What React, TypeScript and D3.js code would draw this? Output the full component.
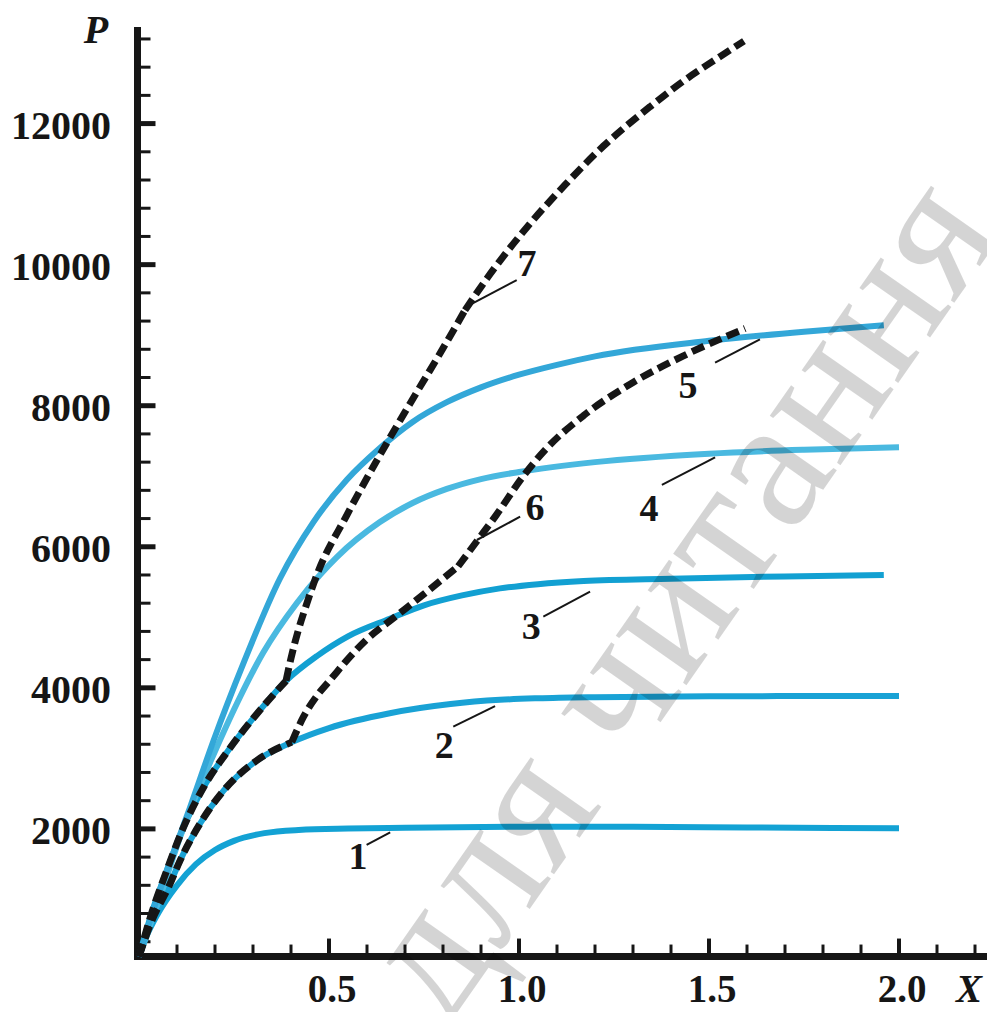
import React from 'react';
import * as d3 from 'd3';

type Pt = [number, number];

// Solid curves 1..5 : [X, P]
const curve1: Pt[] = [[0,190],[0.02,480],[0.05,800],[0.1,1200],[0.15,1500],[0.2,1700],[0.25,1830],[0.33,1940],[0.42,1985],[0.55,2005],[0.7,2015],[1.0,2030],[1.3,2030],[1.6,2020],[2.0,2010]];
const curve2: Pt[] = [[0,190],[0.03,650],[0.08,1200],[0.108,1550],[0.16,2070],[0.222,2540],[0.31,2970],[0.402,3230],[0.5,3430],[0.66,3640],[0.82,3770],[0.95,3830],[1.05,3852],[1.2,3868],[1.5,3880],[2.0,3885]];
const curve3: Pt[] = [[0,190],[0.03,750],[0.073,1410],[0.117,2020],[0.17,2590],[0.24,3150],[0.31,3630],[0.387,4100],[0.468,4450],[0.55,4730],[0.66,4980],[0.75,5170],[0.85,5310],[0.95,5410],[1.05,5470],[1.17,5515],[1.4,5548],[1.7,5580],[1.96,5600]];
const curve4: Pt[] = [[0,190],[0.05,950],[0.108,1880],[0.152,2500],[0.196,3050],[0.257,3770],[0.327,4500],[0.415,5200],[0.476,5600],[0.52,5850],[0.634,6350],[0.72,6620],[0.81,6820],[0.9,6960],[1.0,7060],[1.2,7200],[1.5,7320],[1.75,7375],[2.0,7410]];
const curve5: Pt[] = [[0,190],[0.05,1050],[0.1,1800],[0.134,2300],[0.196,3250],[0.275,4350],[0.371,5550],[0.459,6350],[0.547,6950],[0.634,7400],[0.72,7770],[0.81,8050],[0.9,8260],[1.0,8440],[1.1,8580],[1.2,8700],[1.5,8920],[1.75,9050],[1.96,9140]];

// Dashed envelope curves 6 and 7, split at their kinks
const dashed6: Pt[][] = [
  [[0,190],[0.03,650],[0.08,1200],[0.108,1550],[0.16,2070],[0.222,2540],[0.31,2970],[0.402,3230]],
  [[0.402,3230],[0.432,3580],[0.47,3900],[0.503,4110],[0.555,4440],[0.6,4690],[0.67,4990],[0.75,5330],[0.84,5724]],
  [[0.84,5724],[0.889,6078],[0.941,6455],[1.011,7000],[1.073,7397],[1.17,7860],[1.3,8330],[1.43,8700],[1.595,9095]],
];
const dashed7: Pt[][] = [
  [[0,190],[0.03,750],[0.073,1410],[0.117,2020],[0.17,2590],[0.24,3150],[0.31,3630],[0.387,4100]],
  [[0.387,4100],[0.40,4420],[0.42,4830],[0.44,5170],[0.468,5600],[0.547,6450],[0.634,7300],[0.722,8110],[0.792,8740],[0.858,9355]],
  [[0.858,9355],[0.915,9800],[0.968,10180],[1.04,10650],[1.121,11130],[1.222,11680],[1.345,12240],[1.432,12600],[1.529,12950],[1.592,13170]],
];

const solidColors = ['#13a2d4', '#19a2d5', '#12a0d2', '#4ab9e0', '#33a7d8'];

// Curve labels: text, pointer start, pointer end, text position (data units)
const labelNames = ['1','2','3','4','5','6','7'];
const pointerFrom: Pt[] = [[0.599,1772],[0.827,3449],[1.064,5008],[1.376,6876],[1.516,8610],[0.889,6096],[0.858,9395]];
const pointerTo: Pt[] = [[0.661,1952],[0.937,3742],[1.187,5363],[1.516,7268],[1.634,8942],[1.003,6426],[0.994,9782]];
const labelAt: Pt[] = [[0.576,1616],[0.803,3189],[1.032,4877],[1.342,6550],[1.445,8294],[1.042,6564],[1.021,10023]];

const yTickLabels = [2000, 4000, 6000, 8000, 10000, 12000];
const xTickLabels = [0.5, 1.0, 1.5, 2.0];

const W = 987, H = 1012;
const FONT = "'Liberation Serif', 'Times New Roman', serif";

export default function App() {
  const x = d3.scaleLinear().domain([0, 2]).range([139, 899]);
  const y = d3.scaleLinear().domain([0, 12000]).range([969.95, 969.95 - 12000 * 0.07053]);
  const line = d3.line<Pt>().x(d => x(d[0])).y(d => y(d[1])).curve(d3.curveMonotoneX);

  const axisX = 137.5;
  const axisY = y(190);
  const yMinor = d3.range(400, 13201, 400);
  const xMinor = d3.range(1, 23).map(i => i / 10);
  const solids = [curve1, curve2, curve3, curve4, curve5];

  return (
    <svg width={W} height={H} style={{ position: 'absolute', left: 0, top: 0, background: '#fff' }}>
      <rect width={W} height={H} fill="#fff" />
      {/* axes */}
      <line x1={axisX} x2={axisX} y1={27} y2={axisY + 3.5} stroke="#161616" strokeWidth={7} />
      <line x1={axisX - 3.5} x2={W} y1={axisY} y2={axisY} stroke="#161616" strokeWidth={7} />
      {yMinor.map(v => {
        const major = v % 2000 === 0;
        return <line key={'yt' + v} x1={axisX} x2={axisX + (major ? 18 : 13)} y1={y(v)} y2={y(v)} stroke="#161616" strokeWidth={major ? 5 : 3} />;
      })}
      {xMinor.map(v => {
        const major = Math.abs(v * 2 - Math.round(v * 2)) < 1e-6;
        return <line key={'xt' + v} x1={x(v)} x2={x(v)} y1={axisY} y2={axisY - (major ? 18 : 12)} stroke="#161616" strokeWidth={major ? 4 : 3} />;
      })}
      {yTickLabels.map(v => (
        <text key={'yl' + v} x={111} y={y(v) + 15} textAnchor="end" fontFamily={FONT} fontWeight="bold" fontSize={40} fill="#161616">{v}</text>
      ))}
      {xTickLabels.map(v => (
        <text key={'xl' + v} x={x(v) + 3} y={1002} textAnchor="middle" fontFamily={FONT} fontWeight="bold" fontSize={39} fill="#161616">{v.toFixed(1)}</text>
      ))}
      <text x={96} y={43} textAnchor="middle" fontFamily={FONT} fontWeight="bold" fontStyle="italic" fontSize={40} fill="#161616">P</text>
      <text x={969} y={1002} textAnchor="middle" fontFamily={FONT} fontWeight="bold" fontStyle="italic" fontSize={39} fill="#161616">X</text>

      {/* solid curves */}
      {solids.map((c, i) => (
        <path key={'c' + i} d={line(c) || ''} fill="none" stroke={solidColors[i]} strokeWidth={6} strokeLinecap="butt" />
      ))}
      {/* dashed curves */}
      {[dashed6, dashed7].map((segs, j) => (
        <path key={'d' + j} d={segs.map(s => line(s) || '').join('')} fill="none" stroke="#161616" strokeWidth={7} strokeDasharray="13 6" strokeLinejoin="miter" />
      ))}
      {/* labels */}
      {labelNames.map((n, i) => (
        <g key={'lb' + n}>
          <line x1={x(pointerFrom[i][0])} y1={y(pointerFrom[i][1])} x2={x(pointerTo[i][0])} y2={y(pointerTo[i][1])} stroke="#161616" strokeWidth={2} />
          <text x={x(labelAt[i][0])} y={y(labelAt[i][1]) + 13} textAnchor="middle" fontFamily={FONT} fontWeight="bold" fontSize={38} fill="#161616">{n}</text>
        </g>
      ))}
      {/* watermark */}
      <text transform="translate(445,1030) rotate(-55)" fontFamily={FONT} fontSize={188} fill="#000" fillOpacity={0.17}>для читання</text>
    </svg>
  );
}
